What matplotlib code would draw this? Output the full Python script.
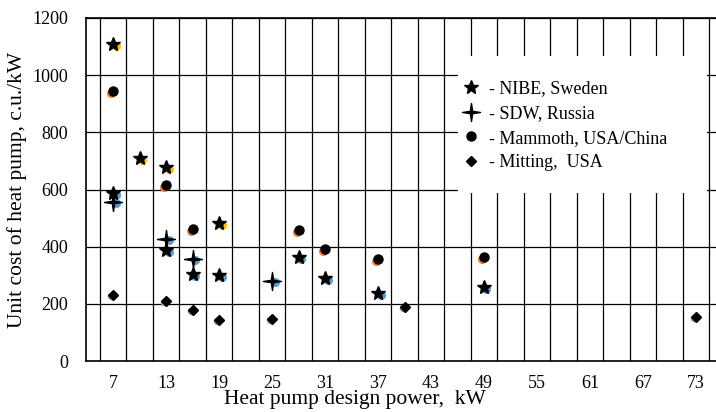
import numpy as np
import matplotlib.pyplot as plt
from matplotlib.lines import Line2D
from matplotlib.path import Path
from matplotlib.markers import MarkerStyle
from matplotlib.patches import Rectangle
import matplotlib.transforms as mtransforms

plt.rcParams['font.family'] = ['Liberation Serif', 'DejaVu Serif']

# data
nibe_x = [7, 10, 13, 19, 7, 13, 16, 19, 28, 31, 37, 49]
nibe_y = [1110, 710, 680, 482, 587, 388, 304, 300, 365, 289, 237, 260]
nibe_shadow = ['#FFC000', '#FFC000', '#FFC000', '#FFC000', '#5B9BD5', '#5B9BD5',
               '#5B9BD5', '#5B9BD5', '#5B9BD5', '#5B9BD5', '#5B9BD5', '#5B9BD5']

sdw_x = [7, 13, 16, 25]
sdw_y = [557, 428, 356, 280]

mammoth_x = [7, 13, 16, 28, 31, 37, 49]
mammoth_y = [945, 615, 462, 458, 392, 357, 365]

mitting_x = [7, 13, 16, 19, 25, 40, 73]
mitting_y = [231, 210, 178, 143, 146, 190, 155]

x_ticks = list(range(7, 74, 6))
y_ticks = list(range(0, 1201, 200))

# thin four pointed star
four_star = MarkerStyle(Path([(0, 1), (0.13, 0.13), (1, 0), (0.13, -0.13), (0, -1),
                              (-0.13, -0.13), (-1, 0), (-0.13, 0.13), (0, 1)],
                             closed=True))

fig = plt.figure(figsize=(7.16, 4.12), dpi=100)
ax = fig.add_axes([86/716, (412-361)/412, 630/716, 343/412])

def shifted(dx, dy):
    return mtransforms.offset_copy(ax.transData, fig=fig, x=dx, y=dy, units='dots')

# coloured circles peeking out under the black marks
for i in range(len(nibe_x)):
    ax.plot(nibe_x[i], nibe_y[i], 'o', ms=6.5, color=nibe_shadow[i], mec='none',
            transform=shifted(2.5, -2), zorder=3)
ax.plot(sdw_x, sdw_y, 'o', ms=6.5, color='#5B9BD5', mec='none',
        transform=shifted(2.5, -1), linestyle='none', zorder=3)
ax.plot(mammoth_x, mammoth_y, 'o', ms=6.5, color='#ED7D31', mec='none',
        transform=shifted(-2, -2), linestyle='none', zorder=3)
ax.plot(mitting_x, mitting_y, 'o', ms=5.5, color='#A5A5A5', mec='none',
        transform=shifted(-2, -1), linestyle='none', zorder=3)

ax.plot(nibe_x, nibe_y, '*', ms=10, color='black', mec='black', linestyle='none', zorder=4)
ax.plot(sdw_x, sdw_y, marker=four_star, ms=13, color='black', linestyle='none', zorder=4)
ax.plot(mammoth_x, mammoth_y, 'o', ms=6.5, color='black', linestyle='none', zorder=4)
ax.plot(mitting_x, mitting_y, 'D', ms=4.8, color='black', linestyle='none', zorder=4)

ax.set_xlim(3.914, 75.29)
ax.set_ylim(0, 1200)
ax.set_xticks(x_ticks)
ax.set_xticks(np.arange(5.5, 75, 3), minor=True)
ax.set_yticks(y_ticks)
ax.tick_params(axis='x', which='both', length=0, pad=10, labelsize=13)
ax.tick_params(axis='y', length=0, pad=13, labelsize=13)
ax.grid(which='minor', axis='x', color='black', linewidth=0.9)
ax.grid(which='major', axis='y', color='black', linewidth=0.9)
ax.set_axisbelow(True)
for s in ['left', 'bottom', 'top']:
    ax.spines[s].set_linewidth(1.2)
ax.spines['right'].set_visible(False)

ax.set_xlabel('Heat pump design power,  kW', fontsize=15.5)
ax.xaxis.set_label_coords(0.427, -0.085)
ax.set_ylabel('Unit cost of heat pump, c.u./kW', fontsize=15.5)
ax.yaxis.set_label_coords(-0.094, 0.4985)

# white box for the legend
ax.add_patch(Rectangle((372/630, 168/343), 249/630, 137/343, transform=ax.transAxes,
                       facecolor='white', edgecolor='none', zorder=2.5))

handles = [Line2D([], [], marker='*', ms=10, color='black', linestyle='none'),
           Line2D([], [], marker=four_star, ms=13, color='black', linestyle='none'),
           Line2D([], [], marker='o', ms=6.5, color='black', linestyle='none'),
           Line2D([], [], marker='D', ms=4.8, color='black', linestyle='none')]
labels = ['- NIBE, Sweden', '- SDW, Russia', '- Mammoth, USA/China', '- Mitting,  USA']
leg = ax.legend(handles, labels, loc='upper left', bbox_to_anchor=(0.5968, 0.819),
                frameon=False, fontsize=13, handlelength=1.0, handletextpad=0.5,
                labelspacing=0.43, borderpad=0, borderaxespad=0)
leg.set_zorder(5)

plt.savefig('out.png', dpi=100)
